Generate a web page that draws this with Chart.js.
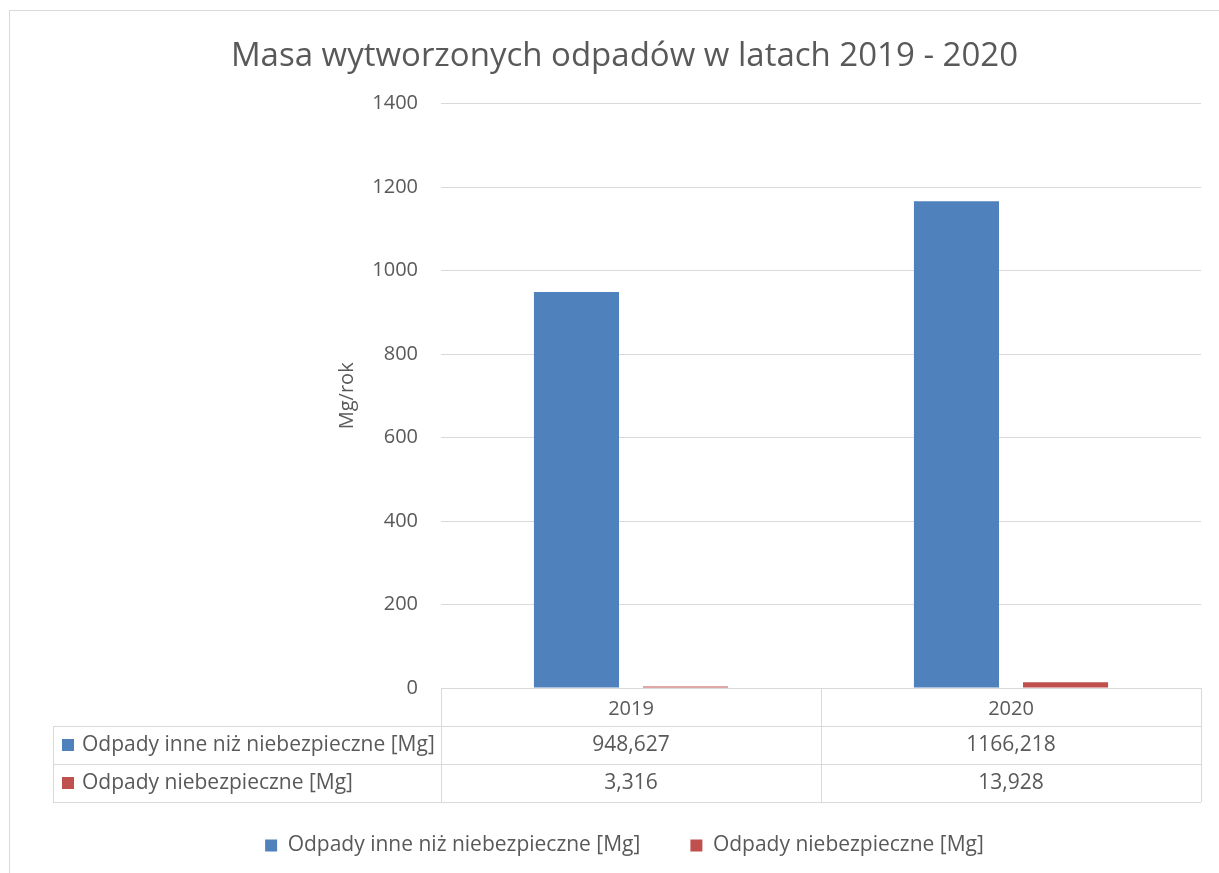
<!DOCTYPE html>
<html lang="pl">
<head>
<meta charset="utf-8">
<title>Masa wytworzonych odpadów w latach 2019 - 2020</title>
<script src="https://cdn.jsdelivr.net/npm/chart.js@4"></script>
<style>
  html, body { margin: 0; padding: 0; background: #fff; }
  #chart { display: block; }
</style>
</head>
<body>
<canvas id="chart" width="1219" height="873"></canvas>
<script>
// dane
const years = ['2019', '2020'];
const seriesNames = ['Odpady inne niż niebezpieczne [Mg]', 'Odpady niebezpieczne [Mg]'];
const odpadyInne = [948.627, 1166.218];
const odpadyNiebezpieczne = [3.316, 13.928];
const yMin = 0;
const yMax = 1400;
const yStep = 200;

const colors = ['#4f81bd', '#c0504d'];
const textColor = '#595959';
const lineColor = '#d9d9d9';
const fontFamily = '"Open Sans", Lato, sans-serif';
const fontSize = 20;
const tableFontSize = 21;

// liczby po polsku: przecinek dziesiętny
const fmt = v => String(v).replace('.', ',');

// ramka wykresu (jak w Excelu)
const frame = {
    id: 'frame',
    beforeDraw(chart) {
        const ctx = chart.ctx;
        ctx.save();
        ctx.strokeStyle = lineColor;
        ctx.lineWidth = 1;
        ctx.strokeRect(9.5, 10.5, 1400, 1000);
        ctx.restore();
    }
};

// tabela danych pod osią X
const dataTable = {
    id: 'dataTable',
    afterDraw(chart) {
        const ctx = chart.ctx;
        const area = chart.chartArea;
        const xs = chart.scales.x;
        const colW = (area.right - area.left) / years.length;
        const rowH = 38;
        const top = Math.round(area.bottom);
        const headLeft = 53;
        const rows = [
            { name: seriesNames[0], color: colors[0], values: odpadyInne },
            { name: seriesNames[1], color: colors[1], values: odpadyNiebezpieczne }
        ];
        const bottom = top + rowH * (rows.length + 1);

        ctx.save();
        ctx.strokeStyle = lineColor;
        ctx.lineWidth = 1;
        ctx.beginPath();
        for (let r = 1; r <= rows.length + 1; r++) {
            const y = top + r * rowH + 0.5;
            ctx.moveTo(headLeft, y);
            ctx.lineTo(area.right, y);
        }
        ctx.moveTo(headLeft + 0.5, top + rowH);
        ctx.lineTo(headLeft + 0.5, bottom);
        for (let c = 0; c <= years.length; c++) {
            const x = Math.round(area.left + c * colW) + 0.5;
            ctx.moveTo(x, top);
            ctx.lineTo(x, bottom);
        }
        ctx.stroke();

        ctx.font = tableFontSize + 'px ' + fontFamily;
        ctx.textBaseline = 'middle';
        rows.forEach((row, r) => {
            const cy = top + (r + 1) * rowH + rowH / 2;
            ctx.fillStyle = row.color;
            ctx.fillRect(62, cy - 6, 12, 12);
            ctx.fillStyle = textColor;
            ctx.textAlign = 'left';
            ctx.fillText(row.name, 82, cy);
            ctx.textAlign = 'center';
            row.values.forEach((v, i) => {
                ctx.fillText(fmt(v), xs.getPixelForValue(i), cy);
            });
        });
        ctx.restore();
    }
};

new Chart(document.getElementById('chart'), {
    type: 'bar',
    data: {
        labels: years,
        datasets: [
            { label: seriesNames[0], data: odpadyInne, backgroundColor: colors[0] },
            { label: seriesNames[1], data: odpadyNiebezpieczne, backgroundColor: colors[1] }
        ]
    },
    options: {
        responsive: false,
        animation: false,
        devicePixelRatio: 1,
        categoryPercentage: 0.574,
        barPercentage: 0.78,
        layout: { padding: { left: 48, right: 18, top: 0, bottom: 7 } },
        plugins: {
            title: {
                display: true,
                text: 'Masa wytworzonych odpadów w latach 2019 - 2020',
                color: textColor,
                font: { family: fontFamily, size: 33, weight: 'normal', lineHeight: 1.2 },
                padding: { top: 37, bottom: 27 }
            },
            legend: {
                position: 'bottom',
                labels: {
                    color: textColor,
                    font: { family: fontFamily, size: tableFontSize },
                    boxWidth: 12,
                    boxHeight: 12,
                    padding: 50
                }
            },
            tooltip: { enabled: false }
        },
        scales: {
            x: {
                grid: { display: false },
                border: { display: false },
                ticks: {
                    color: textColor,
                    font: { family: fontFamily, size: fontSize },
                    padding: 1
                },
                afterFit(scale) { scale.height = 97; }
            },
            y: {
                min: yMin,
                max: yMax,
                grid: { color: lineColor, drawTicks: false },
                border: { display: false },
                ticks: {
                    stepSize: yStep,
                    color: textColor,
                    font: { family: fontFamily, size: fontSize },
                    padding: 23,
                    callback: v => String(v)
                },
                title: {
                    display: true,
                    text: 'Mg/rok',
                    color: textColor,
                    font: { family: fontFamily, size: fontSize },
                    padding: { top: 287, bottom: 0 }
                },
                afterFit(scale) { scale.width = 393; }
            }
        }
    },
    plugins: [frame, dataTable]
});
</script>
</body>
</html>
